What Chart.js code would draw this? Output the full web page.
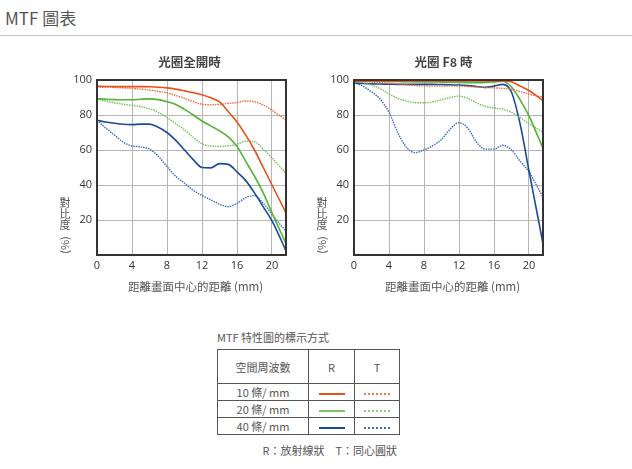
<!DOCTYPE html>
<html>
<head>
<meta charset="utf-8">
<script src="https://cdn.jsdelivr.net/npm/chart.js@4"></script>
<style>
  body { margin: 0; background: #fff; width: 632px; height: 469px; position: relative; overflow: hidden; }
  .cjk { font-family: "Noto Sans CJK TC", "Noto Sans", sans-serif; color: #555; }
  #pageTitle { position: absolute; left: 5px; top: 8px; font-size: 17px; line-height: 20px; }
  #rule { position: absolute; left: 0; top: 35px; width: 632px; height: 1px; background: #c8c8c8; }
  canvas { position: absolute; top: 50px; }
  #legendCaption { position: absolute; left: 217px; top: 330px; font-size: 11px; line-height: 14px; }
  #legendTable { position: absolute; left: 217px; top: 349px; width: 183px; border-collapse: collapse; font-size: 11px; }
  #legendTable td { border: 1px solid #555; text-align: center; padding: 0; height: 16px; line-height: 14px; }
  #legendTable tr.head td { height: 33px; }
  .swatch { display: inline-block; width: 26px; height: 0; vertical-align: middle; }
  #legendNote { position: absolute; right: 235px; top: 443px; font-size: 11px; line-height: 14px; }
</style>
</head>
<body>
<div id="pageTitle" class="cjk">MTF 圖表</div>
<div id="rule"></div>

<canvas id="chartOpen" width="245" height="250" style="left:55px"></canvas>
<canvas id="chartF8" width="245" height="250" style="left:312px"></canvas>

<div id="legendCaption" class="cjk">MTF 特性圖的標示方式</div>
<table id="legendTable" class="cjk">
  <tr class="head"><td style="width:90px">空間周波數</td><td style="width:45px">R</td><td>T</td></tr>
  <tr><td>10 條/ mm</td><td><span class="swatch" style="border-top:2px solid #e8501a"></span></td><td><span class="swatch" style="border-top:2px dotted #ef7a45"></span></td></tr>
  <tr><td>20 條/ mm</td><td><span class="swatch" style="border-top:2px solid #7cc468"></span></td><td><span class="swatch" style="border-top:2px dotted #8ccf78"></span></td></tr>
  <tr><td>40 條/ mm</td><td><span class="swatch" style="border-top:2px solid #1b4a9c"></span></td><td><span class="swatch" style="border-top:2px dotted #3a6cc0"></span></td></tr>
</table>
<div id="legendNote" class="cjk">R：放射線狀　T：同心圓狀</div>

<script>
// distance from image centre (mm)
const distMm = [0, 1, 2, 3, 4, 5, 6, 7, 8, 9, 10, 11, 12, 13, 14, 15, 16, 17, 18, 19, 20, 21, 21.6];
const xTickValues = [0, 4, 8, 12, 16, 20];
const yTickValues = [20, 40, 60, 80, 100];

// wide open
const r10Open = [96.4, 96.3, 96.2, 96.2, 96.2, 96.2, 96.1, 95.9, 95.5, 94.8, 93.8, 92.8, 91.6, 89.8, 87.5, 82, 76, 68.5, 60, 50, 40, 30, 24];
const t10Open = [96, 96, 95.8, 95.5, 95.2, 94.8, 94.3, 93.5, 92.7, 91.2, 89.5, 87.6, 86.2, 85.8, 86.1, 86.6, 87.2, 88, 87.6, 85.7, 82.7, 79.2, 77];
const r20Open = [89.3, 89, 88.8, 88.7, 88.7, 89, 89.2, 88.8, 87.6, 86, 83.2, 80, 76.6, 73.8, 71, 67.5, 62, 53.5, 45, 35.5, 24, 13, 6.5];
const t20Open = [89, 88, 87, 86.2, 85.5, 84.8, 83.5, 81.5, 78.5, 75, 71.5, 67.3, 63.5, 62.3, 62, 62.4, 63.3, 65, 64.8, 60.3, 55.5, 50, 47];
const r40Open = [77, 76, 75.3, 74.7, 74.5, 74.8, 74.8, 73, 70, 65.5, 60, 54.5, 50, 49.8, 52.2, 51.8, 47.5, 42.5, 35.5, 27.5, 19.5, 9, 2.3];
const t40Open = [77, 72.5, 68.5, 64.5, 62.3, 61.8, 60.5, 56.5, 50.5, 45, 41, 37, 34, 31.5, 29, 27.6, 29.5, 32.8, 34, 29.5, 23.3, 17, 13.7];

// F8
const r10F8 = [99.4, 99.4, 99.4, 99.4, 99.4, 99.4, 99.4, 99.4, 99.4, 99.4, 99.4, 99.4, 99.4, 99.4, 99.4, 99.4, 99.4, 99.4, 99, 96.5, 94, 90.5, 88.2];
const t10F8 = [99.2, 99, 98.8, 98.5, 98.2, 97.8, 97.3, 96.8, 96.6, 96.5, 96.5, 96.5, 96.5, 96.3, 96, 95.7, 95.5, 95.2, 94.6, 93.3, 92, 90.8, 90.3];
const r20F8 = [99.3, 99.3, 99.3, 99.3, 99.2, 99.1, 99, 98.9, 98.9, 98.9, 98.8, 98.7, 98.6, 98.5, 98.5, 98.6, 98.9, 99.3, 96, 88.5, 79.5, 68, 61];
const t20F8 = [99, 98.5, 97.2, 95, 92, 89.5, 88, 87, 87, 87.5, 88.7, 90, 90.8, 89.5, 87, 85, 84, 83.3, 81.5, 78.5, 75, 72, 70.3];
const r40F8 = [98.3, 98, 97.8, 97.7, 97.6, 97.5, 97.5, 97.5, 97.5, 97.5, 97.4, 97.3, 97.1, 96.8, 96.3, 95.8, 96.5, 97.5, 93, 74.5, 48, 22, 6.5];
const t40F8 = [98.5, 96.5, 93.3, 89, 81.5, 70, 61.5, 58.5, 60, 62.5, 66, 72, 75.6, 72.5, 64.5, 60.5, 60.5, 62.7, 60, 53.5, 47.5, 38.5, 33];

const xTitle = '距離畫面中心的距離 (mm)';
const yTitleChars = ['對', '比', '度'];

const colors = {
  r10: '#e8501a', t10: '#ef6a35',
  r20: '#54b435', t20: '#72c255',
  r40: '#1b4a9c', t40: '#3a6cc0'
};

function series(values, color, dotted) {
  return {
    data: distMm.map((x, i) => ({ x: x, y: values[i] })),
    borderColor: color,
    borderWidth: dotted ? 1.4 : 1.6,
    borderDash: dotted ? [1.5, 1] : [],
    pointRadius: 0,
    cubicInterpolationMode: 'monotone',
    fill: false
  };
}

// frame, chart title and axis titles
const chartDecor = {
  id: 'chartDecor',
  afterDraw(chart, args, opts) {
    const ctx = chart.ctx;
    const a = chart.chartArea;
    const mid = (a.left + a.right) / 2;
    ctx.save();
    ctx.strokeStyle = '#333';
    ctx.lineWidth = 2;
    ctx.strokeRect(a.left, a.top, a.right - a.left, a.bottom - a.top);

    ctx.textAlign = 'center';
    ctx.textBaseline = 'middle';
    ctx.fillStyle = '#444';
    ctx.font = 'bold 12.5px "Noto Sans CJK TC"';
    ctx.fillText(opts.title, mid + opts.titleShift, 12);

    ctx.fillStyle = '#555';
    ctx.font = '11.5px "Noto Sans CJK TC"';
    ctx.fillText(xTitle, mid + 4, 237);

    ctx.font = '11px "Noto Sans CJK TC"';
    yTitleChars.forEach((c, i) => ctx.fillText(c, 10, 153 + i * 11));
    ctx.translate(10, 195);
    ctx.rotate(-Math.PI / 2);
    ctx.fillText('(%)', 0, 0);
    ctx.restore();
  }
};

function makeChart(id, title, titleShift, sets) {
  return new Chart(document.getElementById(id), {
    type: 'line',
    data: {
      datasets: [
        series(sets[0], colors.r10, false),
        series(sets[1], colors.t10, true),
        series(sets[2], colors.r20, false),
        series(sets[3], colors.t20, true),
        series(sets[4], colors.r40, false),
        series(sets[5], colors.t40, true)
      ]
    },
    options: {
      responsive: false,
      animation: false,
      layout: { padding: { top: 30, right: 14, left: 0, bottom: 0 } },
      plugins: {
        legend: { display: false },
        tooltip: { enabled: false },
        chartDecor: { title: title, titleShift: titleShift }
      },
      scales: {
        x: {
          type: 'linear',
          min: 0,
          max: 21.6,
          afterBuildTicks: s => { s.ticks = xTickValues.map(v => ({ value: v })); },
          afterFit: s => { s.height = 45; },
          grid: { color: '#b5b5b5', drawTicks: false },
          border: { display: false },
          ticks: { padding: 4, color: '#333', font: { family: 'Open Sans', size: 11 }, maxRotation: 0 }
        },
        y: {
          min: 0,
          max: 100,
          afterBuildTicks: s => { s.ticks = yTickValues.map(v => ({ value: v })); },
          afterFit: s => { s.width = 42; },
          grid: { color: '#b5b5b5', drawTicks: false },
          border: { display: false },
          ticks: { padding: 5, color: '#333', font: { family: 'Open Sans', size: 11 } }
        }
      }
    },
    plugins: [chartDecor]
  });
}

makeChart('chartOpen', '光圈全開時', -2, [r10Open, t10Open, r20Open, t20Open, r40Open, t40Open]);
makeChart('chartF8', '光圈 F8 時', -5, [r10F8, t10F8, r20F8, t20F8, r40F8, t40F8]);
</script>
</body>
</html>
